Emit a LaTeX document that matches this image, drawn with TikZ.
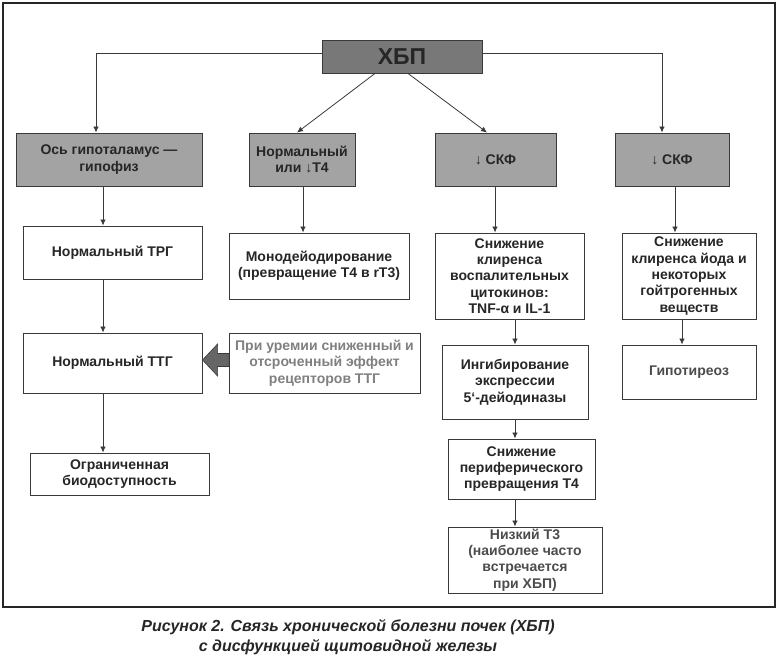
\documentclass[tikz,border=0pt]{standalone}
\usepackage{fontspec}
\setmainfont{Liberation Sans}
\usetikzlibrary{arrows.meta}
\definecolor{txt}{HTML}{262626}
\definecolor{boxfill}{HTML}{A3A3A3}
\definecolor{topfill}{HTML}{787878}
\definecolor{lineg}{HTML}{3A3A3A}
\tikzset{
  box/.style={draw=lineg, line width=0.9pt, fill=white, align=center, inner sep=1pt,
    font=\fontsize{14}{16.3}\selectfont\bfseries, text=txt},
  gbox/.style={box, fill=boxfill},
  arr/.style={draw=lineg, line width=0.8pt, -{Latex[length=6pt,width=5.5pt]}},
  barrow/.style={draw=lineg, line width=0.6pt, fill=topfill!85!black},
}
\begin{document}
\begin{tikzpicture}[x=1pt,y=-1pt]
\useasboundingbox (0,0) rectangle (780,658);
\draw[line width=1.5pt, draw=black!85] (3,3) rectangle (775,607);
% nodes
\node[gbox, fill=topfill, minimum width=160, minimum height=33, font=\fontsize{23}{26}\selectfont\bfseries, text=black!85] (ckd) at (402,56.5) {ХБП};
\node[gbox, minimum width=186, minimum height=53] (hpa) at (109,159.5) {Ось гипоталамус —\\гипофиз};
\node[gbox, minimum width=106, minimum height=53] (t4) at (302,159.5) {Нормальный\\или ↓T4};
\node[gbox, minimum width=121, minimum height=53] (gfr1) at (495.5,159.5) {↓ СКФ};
\node[gbox, minimum width=114, minimum height=53] (gfr2) at (672,159.5) {↓ СКФ};
\node[box, minimum width=179, minimum height=53] (trg) at (112.5,252.5) {Нормальный ТРГ};
\node[box, minimum width=180, minimum height=66] (mono) at (319,266) {Монодейодирование\\(превращение Т4 в rТ3)};
\node[box, minimum width=179, minimum height=60] (ttg) at (112.5,363) {Нормальный ТТГ};
\node[box, minimum width=191, minimum height=60, text=black!50] (urem) at (324.5,363) {При уремии сниженный и\\отсроченный эффект\\рецепторов ТТГ};
\node[box, minimum width=179, minimum height=42] (bio) at (119.5,474) {Ограниченная\\биодоступность};
\node[box, minimum width=149, minimum height=86] (cyt) at (509.5,276) {Снижение\\клиренса\\воспалительных\\цитокинов:\\TNF-α и IL-1};
\node[box, minimum width=134, minimum height=86] (iod) at (689,276) {Снижение\\клиренса йода и\\некоторых\\гойтрогенных\\веществ};
\node[box, minimum width=146, minimum height=74] (inh) at (515,382) {Ингибирование\\экспрессии\\5\char"60-дейодиназы};
\node[box, minimum width=134, minimum height=54, text=black!70] (hypo) at (689,372) {Гипотиреоз};
\node[box, minimum width=147, minimum height=60] (per) at (521.5,469) {Снижение\\периферического\\превращения Т4};
\node[box, minimum width=154, minimum height=66, text=black!70] (low) at (525,560) {Низкий Т3\\(наиболее часто\\встречается\\при ХБП)};
% column coordinates
\coordinate (xa) at (103,0);
\coordinate (xb) at (303,0);
\coordinate (xc) at (495,0);
\coordinate (xd) at (515,0);
\coordinate (xe) at (675,0);
\coordinate (xf) at (682,0);
\coordinate (xg) at (96,0);
\coordinate (xh) at (662,0);
% connectors
\draw[arr] ([yshift=3.5]ckd.west) -| (hpa.north -| xg);
\draw[arr] ([yshift=3.5]ckd.east) -| (gfr2.north -| xh);
\draw[arr] ([xshift=-27]ckd.south) -- ([xshift=-5]t4.north);
\draw[arr] ([xshift=6]ckd.south) -- ([xshift=-8.5]gfr1.north);
\draw[arr] (hpa.south -| xa) -- (trg.north -| xa);
\draw[arr] (trg.south -| xa) -- (ttg.north -| xa);
\draw[arr] (ttg.south -| xa) -- (bio.north -| xa);
\draw[arr] (t4.south -| xb) -- (mono.north -| xb);
\draw[arr] (gfr1.south -| xc) -- (cyt.north -| xc);
\draw[arr] (cyt.south -| xd) -- (inh.north -| xd);
\draw[arr] (inh.south -| xd) -- (per.north -| xd);
\draw[arr] (per.south -| xd) -- (low.north -| xd);
\draw[arr] (gfr2.south -| xe) -- (iod.north -| xe);
\draw[arr] (iod.south -| xf) -- (hypo.north -| xf);
% block arrow
\coordinate (m) at ([yshift=3]urem.west);
\draw[barrow] (m) ++(0,-6.5) -- ++(-11,0) -- ++(0,-9.5) -- ++(-15,16) -- ++(15,16) -- ++(0,-9.5) -- ++(11,0) -- cycle;
% caption
\node[align=center, font=\fontsize{16}{20}\selectfont\bfseries\itshape, text=black!85] (cap) at (348,637) {Рисунок 2. Связь хронической болезни почек (ХБП)\\с дисфункцией щитовидной железы};
\end{tikzpicture}
\end{document}
